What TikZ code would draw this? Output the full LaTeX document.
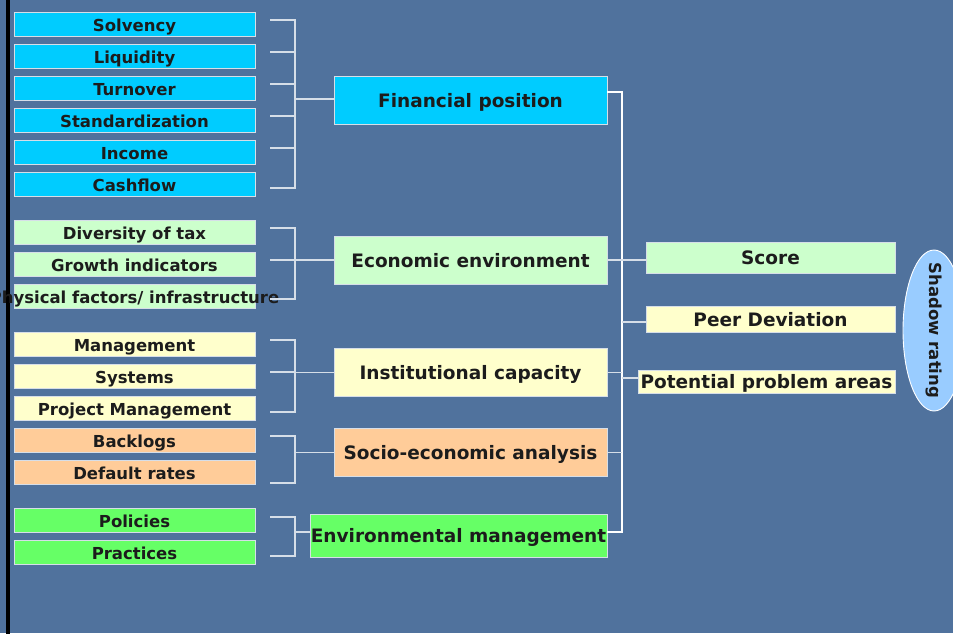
\documentclass[tikz,border=0pt]{standalone}
\usepackage{fontspec}
\setmainfont{DejaVu Sans}
\usetikzlibrary{shapes.geometric}

\definecolor{bgblue}{HTML}{50729D}
\definecolor{cyanbox}{HTML}{00CCFF}
\definecolor{mintbox}{HTML}{CCFFCC}
\definecolor{creambox}{HTML}{FFFFCC}
\definecolor{peachbox}{HTML}{FFCC99}
\definecolor{greenbox}{HTML}{66FF66}
\definecolor{skyoval}{HTML}{99CCFF}
\definecolor{inktext}{HTML}{1C1C1C}
\definecolor{linkgray}{HTML}{D6DEE8}

\tikzset{
  box/.style={draw=linkgray, line width=0.8pt, inner sep=0pt, text=inktext,
              font=\bfseries, text depth=0pt},
  leaf/.style={box, minimum width=241pt, minimum height=24pt, text height=14.5pt,
               font=\fontsize{16.5}{18}\selectfont\bfseries},
  group/.style={box, minimum width=273pt, minimum height=48pt, text height=14pt,
                font=\fontsize{18.5}{20}\selectfont\bfseries},
  result/.style={box, minimum width=249pt, text height=14pt,
                 font=\fontsize{18.5}{20}\selectfont\bfseries},
  link/.style={draw=linkgray, line width=1.1pt},
  trunk/.style={draw=white, line width=1.3pt},
}

\begin{document}
\begin{tikzpicture}[x=1pt, y=-1pt]
  % page and backdrop
  \useasboundingbox (0,0) rectangle (953,633);
  \fill[bgblue] (0,0) rectangle (953,633);
  \fill[black] (6,-2) rectangle (9.5,635);

  % financial position indicators
  \node[leaf, fill=cyanbox] (sol)  at (134.5,24)  {Solvency};
  \node[leaf, fill=cyanbox] (liq)  at (134.5,56)  {Liquidity};
  \node[leaf, fill=cyanbox] (turn) at (134.5,88)  {Turnover};
  \node[leaf, fill=cyanbox] (std)  at (134.5,120) {Standardization};
  \node[leaf, fill=cyanbox] (inc)  at (134.5,152) {Income};
  \node[leaf, fill=cyanbox] (cash) at (134.5,184) {Cashflow};

  % economic environment indicators
  \node[leaf, fill=mintbox] (tax)  at (134.5,232) {Diversity of tax};
  \node[leaf, fill=mintbox] (grow) at (134.5,264) {Growth indicators};
  \node[leaf, fill=mintbox] (phys) at (134.5,296) {\makebox[0pt]{Physical factors/ infrastructure}};

  % institutional capacity indicators
  \node[leaf, fill=creambox] (mgmt) at (134.5,344) {Management};
  \node[leaf, fill=creambox] (sys)  at (134.5,376) {Systems};
  \node[leaf, fill=creambox] (proj) at (134.5,408) {Project Management};

  % socio-economic indicators
  \node[leaf, fill=peachbox] (back) at (134.5,440) {Backlogs};
  \node[leaf, fill=peachbox] (dflt) at (134.5,472) {Default rates};

  % environmental indicators
  \node[leaf, fill=greenbox] (pol)  at (134.5,520) {Policies};
  \node[leaf, fill=greenbox] (prac) at (134.5,552) {Practices};

  % groups
  \node[group, fill=cyanbox]  (fin)  at (470.5,100) {Financial position};
  \node[group, fill=mintbox]  (eco)  at (470.5,260) {Economic environment};
  \node[group, fill=creambox] (inst) at (470.5,372.5) {Institutional capacity};
  \node[group, fill=peachbox] (soc)  at (470.5,452.5) {Socio-economic analysis};
  \node[group, fill=greenbox, minimum width=297pt, minimum height=43pt]
       (env) at (458.5,535.5) {\makebox[0pt]{Environmental management}};

  % outcomes
  \node[result, fill=mintbox, minimum height=31pt]  (score) at (770.5,257.5) {Score};
  \node[result, fill=creambox, minimum height=26pt] (peer)  at (770.5,319)   {Peer Deviation};
  \node[result, fill=creambox, minimum width=257pt, minimum height=23pt]
       (prob) at (766.5,381.5) {\makebox[0pt]{Potential problem areas}};

  % rating oval
  \node[ellipse, draw=white, line width=0.9pt, fill=skyoval, minimum width=62pt,
        minimum height=161pt, inner sep=0pt] (rate) at (934,330.5) {};
  \node[rotate=-90, text=inktext, font=\fontsize{16.5}{18}\selectfont\bfseries]
       (ratetxt) at (rate.center) {Shadow rating};

  % spines of the brackets
  \coordinate (lsp) at (295,0);
  \coordinate (rsp) at (622,0);

  % financial bracket
  \draw[link] ([xshift=15pt,yshift=4pt]sol.east) -- ([yshift=4pt]sol.east -| lsp)
              -- ([yshift=-4pt]cash.east -| lsp) -- ([xshift=15pt,yshift=-4pt]cash.east);
  \foreach \n in {liq,turn,std,inc}
    \draw[link] ([xshift=15pt,yshift=4pt]\n.east) -- ([yshift=4pt]\n.east -| lsp);
  \draw[link] (fin.west |- 0,99) -- (lsp |- 0,99);

  % economic bracket
  \draw[link] ([xshift=15pt,yshift=4pt]tax.east) -- ([yshift=4pt]tax.east -| lsp)
              -- ([yshift=-3pt]phys.east -| lsp) -- ([xshift=15pt,yshift=-3pt]phys.east);
  \draw[link] ([xshift=15pt,yshift=4pt]grow.east) -- ([yshift=4pt]grow.east -| lsp);
  \draw[link] (eco.west) -- (eco.west -| lsp);

  % institutional bracket
  \draw[link] ([xshift=15pt,yshift=4pt]mgmt.east) -- ([yshift=4pt]mgmt.east -| lsp)
              -- ([yshift=-4pt]proj.east -| lsp) -- ([xshift=15pt,yshift=-4pt]proj.east);
  \draw[link] ([xshift=15pt,yshift=4pt]sys.east) -- ([yshift=4pt]sys.east -| lsp);
  \draw[link] (inst.west) -- (inst.west -| lsp);

  % socio-economic bracket
  \draw[link] ([xshift=15pt,yshift=4pt]back.east) -- ([yshift=4pt]back.east -| lsp)
              -- ([yshift=-11pt]dflt.east -| lsp) -- ([xshift=15pt,yshift=-11pt]dflt.east);
  \draw[link] (soc.west) -- (soc.west -| lsp);

  % environmental bracket
  \draw[link] ([xshift=15pt,yshift=3pt]pol.east) -- ([yshift=3pt]pol.east -| lsp)
              -- ([yshift=-4pt]prac.east -| lsp) -- ([xshift=15pt,yshift=-4pt]prac.east);
  \draw[link] (env.west |- 0,532) -- (lsp |- 0,532);

  % trunk collecting the groups
  \draw[trunk] (fin.east |- 0,92) -- (rsp |- 0,92) -- (rsp |- 0,532) -- (env.east |- 0,532);
  \draw[link] (eco.east) -- (eco.east -| score.west);
  \draw[link] (inst.east) -- (inst.east -| rsp);
  \draw[link] (soc.east) -- (soc.east -| rsp);
  \draw[link] (peer.west |- 0,322) -- (rsp |- 0,322);
  \draw[link] (prob.west |- 0,378) -- (rsp |- 0,378);
\end{tikzpicture}
\end{document}
